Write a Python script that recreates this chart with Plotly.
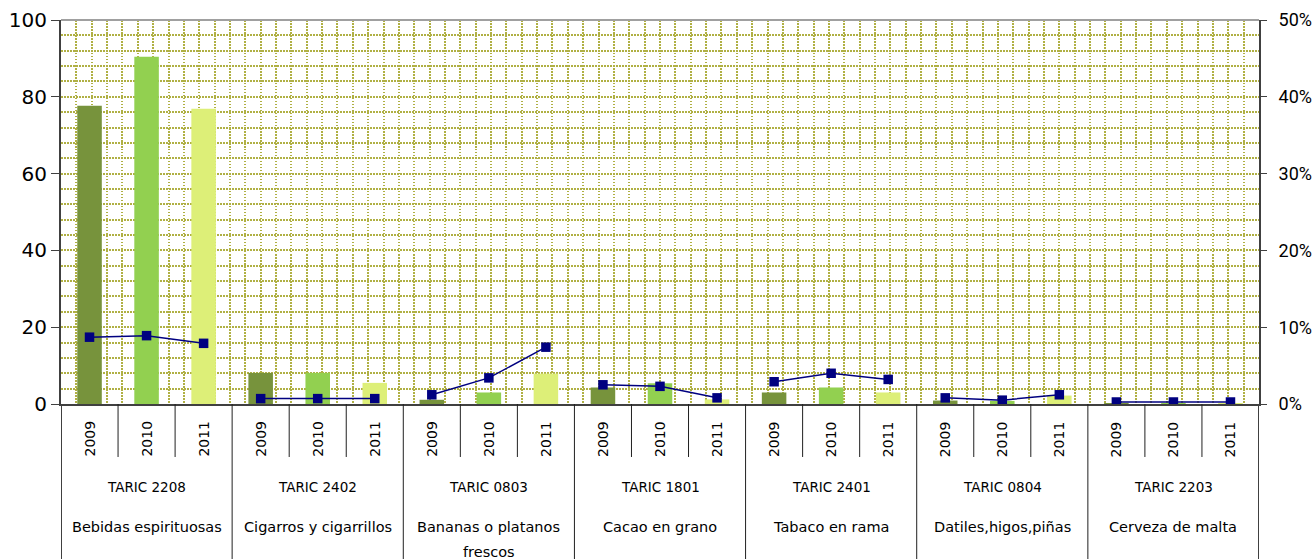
import plotly.graph_objects as go

codes = ["TARIC 2208", "TARIC 2402", "TARIC 0803", "TARIC 1801", "TARIC 2401", "TARIC 0804", "TARIC 2203"]
descs = [["Bebidas espirituosas"], ["Cigarros y cigarrillos"], ["Bananas o platanos", "frescos"],
         ["Cacao en grano"], ["Tabaco en rama"], ["Datiles,higos,piñas"], ["Cerveza de malta"]]
years = ["2009", "2010", "2011"]

val_2009 = [77.7, 8.1, 1.1, 4.3, 3.0, 0.9, 0.2]
val_2010 = [90.4, 8.1, 3.0, 5.4, 4.3, 0.8, 0.2]
val_2011 = [76.9, 5.5, 7.9, 1.2, 3.0, 2.2, 0.2]

pct_2009 = [8.7, 0.7, 1.2, 2.5, 2.9, 0.8, 0.26]
pct_2010 = [8.9, 0.7, 3.4, 2.3, 4.0, 0.5, 0.26]
pct_2011 = [7.9, 0.7, 7.4, 0.8, 3.2, 1.2, 0.26]

left_ticks = [0, 20, 40, 60, 80, 100]
right_ticks = [0, 10, 20, 30, 40, 50]
right_labels = ["0%", "10%", "20%", "30%", "40%", "50%"]

bar_colors = ["#77933C", "#92D050", "#DDEF78"]
line_color = "#000080"
grid_color = "#B0B044"
grid_dash = "1.5px,1.5px"
font_family = "DejaVu Sans"

n_groups = len(codes)
n_years = len(years)
n_cat = n_groups * n_years

fig = go.Figure()

for k, vals in enumerate([val_2009, val_2010, val_2011]):
    fig.add_trace(go.Bar(
        x=[g * n_years + k + 0.5 for g in range(n_groups)],
        y=vals, width=0.43, marker_color=bar_colors[k], marker_line_width=0,
        name=years[k], showlegend=False,
    ))

pcts = [pct_2009, pct_2010, pct_2011]
for g in range(n_groups):
    fig.add_trace(go.Scatter(
        x=[g * n_years + k + 0.5 for k in range(n_years)],
        y=[pcts[k][g] for k in range(n_years)],
        mode="lines+markers", yaxis="y2",
        line=dict(color=line_color, width=1.5),
        marker=dict(symbol="square", size=9.5, color=line_color),
        showlegend=False,
    ))

shapes = []
# top border
shapes.append(dict(type="line", xref="paper", yref="paper", x0=0, x1=1, y0=1, y1=1,
                   line=dict(color="#A0A0A0", width=2)))
# table lines
for i in range(n_cat + 1):
    if i % n_years == 0:
        y1 = -0.41
        w = 1 if 0 < i < n_cat else 2
        col = "#202020" if 0 < i < n_cat else "#404040"
    else:
        y1 = -0.138
        w = 1
        col = "#202020"
    shapes.append(dict(type="line", xref="x", yref="paper", x0=i, x1=i, y0=0, y1=y1,
                       line=dict(color=col, width=w)))

annotations = []
for g in range(n_groups):
    for k in range(n_years):
        annotations.append(dict(x=g * n_years + k + 0.5, y=0, xref="x", yref="paper",
                                text=years[k], textangle=-90, showarrow=False,
                                xanchor="center", yanchor="middle",
                                yshift=-35, font=dict(size=14, color="#000000", family=font_family)))
    cx = g * n_years + n_years / 2
    annotations.append(dict(x=cx, y=0, xref="x", yref="paper", text=codes[g], showarrow=False,
                            xanchor="center", yanchor="middle",
                            yshift=-83, font=dict(size=13.5, color="#000000", family=font_family)))
    for j, line in enumerate(descs[g]):
        annotations.append(dict(x=cx, y=0, xref="x", yref="paper", text=line, showarrow=False,
                                xanchor="center", yanchor="middle",
                                yshift=-123 - 25 * j,
                                font=dict(size=14.5, color="#000000", family=font_family)))

fig.update_layout(
    width=1312, height=559,
    margin=dict(l=61, r=53, t=20, b=155),
    plot_bgcolor="#FFFFFF", paper_bgcolor="#FFFFFF",
    barmode="overlay",
    font=dict(family=font_family, color="#000000"),
    xaxis=dict(range=[0, n_cat], tick0=0, dtick=n_cat / 78, showticklabels=False, ticks="",
               showgrid=True, gridcolor=grid_color, gridwidth=2, griddash=grid_dash,
               showline=True, linecolor="#404040", linewidth=2, zeroline=False, fixedrange=True),
    yaxis=dict(range=[0, 100], tickvals=left_ticks, ticks="outside", ticklen=8, tickcolor="#404040",
               tickfont=dict(size=20, family="DejaVu Sans"), showgrid=False, zeroline=False,
               showline=True, linecolor="#404040", linewidth=2, automargin=False,
               minor=dict(dtick=4, tick0=0, showgrid=True, gridcolor=grid_color, gridwidth=2,
                          griddash=grid_dash, ticks="")),
    yaxis2=dict(range=[0, 50], tickvals=right_ticks, ticktext=right_labels, overlaying="y", side="right",
                ticks="outside", ticklen=6, tickcolor="#404040", tickfont=dict(size=18, family="Roboto"),
                ticklabelstandoff=8, automargin=False,
                showgrid=False, zeroline=False, showline=True, linecolor="#404040", linewidth=2),
    shapes=shapes,
    annotations=annotations,
)

fig.write_html("out.html", config={"displayModeBar": False},
               post_script="document.body.style.margin='0';document.body.style.overflow='hidden';")
